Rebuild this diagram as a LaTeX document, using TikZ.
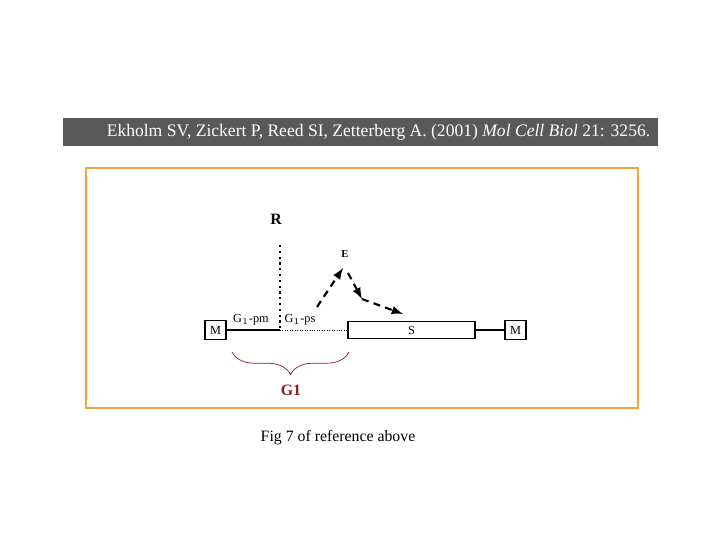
\documentclass[tikz,border=0pt]{standalone}
\usepackage{fontspec}
\setmainfont{Liberation Serif}
\usetikzlibrary{arrows,positioning,decorations.pathreplacing}
\definecolor{bannergray}{HTML}{595959}
\definecolor{frameorange}{HTML}{EEA53A}
\definecolor{bracered}{HTML}{8B1A1A}
\tikzset{
  basic/.style  = {inner sep=0pt, font=\fontsize{7}{8}\selectfont},
  mbox/.style   = {basic, draw, thick, minimum width=0.42cm, minimum height=0.38cm},
  sbox/.style   = {basic, draw, thick, minimum width=2.54cm, minimum height=0.34cm},
  phase/.style  = {basic, font=\fontsize{7}{8}\selectfont},
  dasharrow/.style = {dashed, line width=1.2pt, dash pattern=on 4pt off 3pt, -latex}
}

\begin{document}
\begin{tikzpicture}[x=0.02cm,y=-0.02cm]
\useasboundingbox (0,0) rectangle (720,540);
% reference banner
\fill[bannergray] (63,118) rectangle (658,146);
\node[text=white, font=\fontsize{10}{12}\selectfont] (cite) at (378.5,132)
  {Ekholm SV, Zickert P, Reed SI, Zetterberg A. (2001) \textit{Mol Cell Biol} 21: 3256.};
% figure frame
\draw[frameorange, line width=1.6pt] (86,168) rectangle (638,408);

% cell cycle line
\node[mbox] (m1) at (215.5,330) {M};
\node[sbox] (s) at (411.5,330) {S};
\node[mbox] (m2) at (515.5,330) {M};
\coordinate (rp) at (280,330);
\draw[semithick] (m1.east) -- (rp);
\draw[densely dotted] (rp) -- (s.west);
\draw[semithick] (s.east) -- (m2.west);

% restriction point
\node[font=\fontsize{9}{10}\selectfont\bfseries] (r) at (276,219) {R};
\coordinate (rtop) at (280,245);
\draw[dotted, line width=1.3pt] (rtop) -- (rp);

\node[phase] (pm) at (251,320) {G$_1$-pm};
\node[phase] (ps) at (300,320) {G$_1$-ps};

% E and its route
\node[font=\fontsize{6}{7}\selectfont\bfseries] (e) at (345,254) {E};
\coordinate (rise) at (317,307);
\coordinate (kink) at (362,299);
\coordinate (land) at (403,314);
\draw[dasharrow] (rise) -- (343,268);
\draw[dasharrow] (348,273) -- (kink);
\draw[dasharrow] (kink) -- (land);

% G1 brace
\coordinate (bl) at (232,352);
\coordinate (br) at (349,352);
\draw[bracered, thin, decorate, decoration={brace, mirror, amplitude=0.45cm}] (bl) -- (br);
\node[text=bracered, font=\fontsize{9}{10}\selectfont\bfseries] (g1) at (291,390) {G1};

\node[font=\fontsize{9}{10}\selectfont] (cap) at (338,438) {Fig 7 of reference above};
\end{tikzpicture}
\end{document}
